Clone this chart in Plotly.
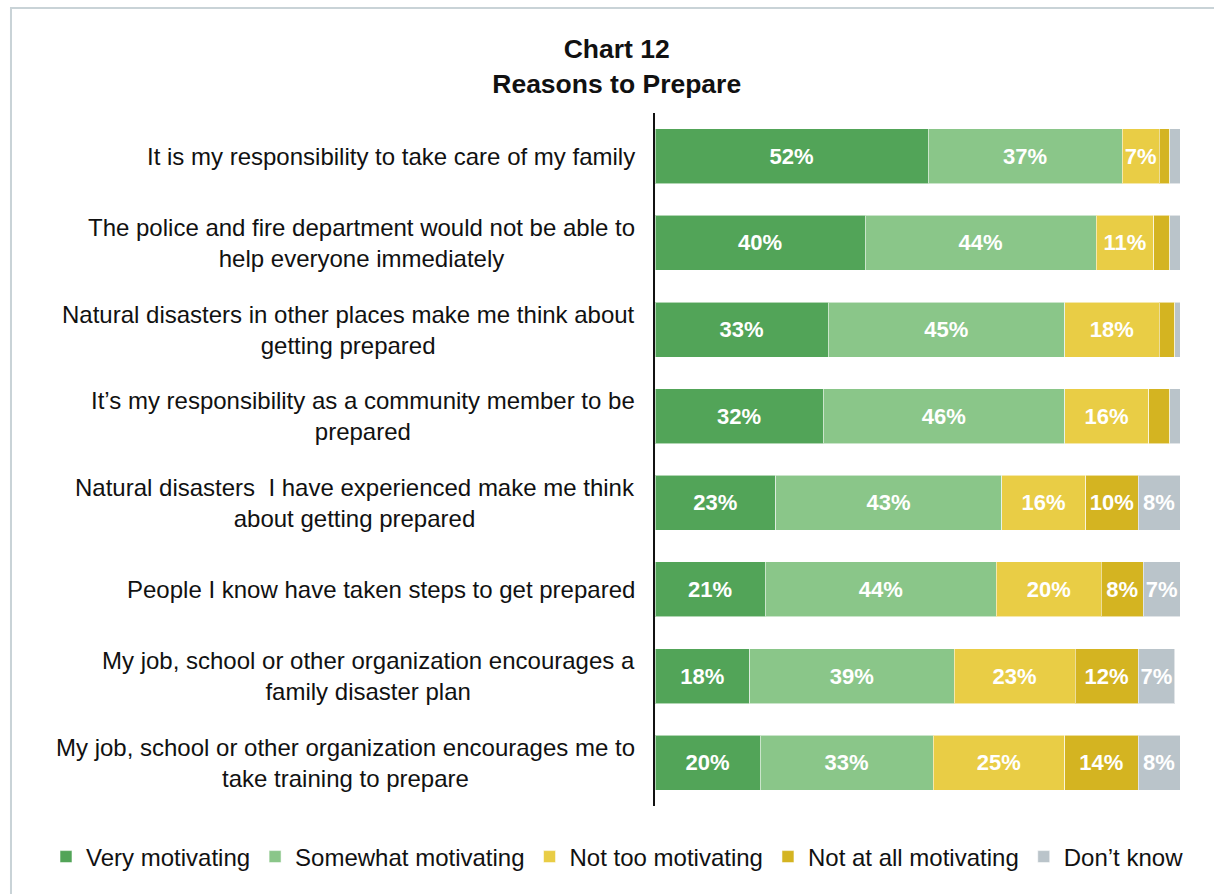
import plotly.graph_objects as go

# Survey statements, top to bottom
categories = [
    "It is my responsibility to take care of my family",
    "The police and fire department would not be able to<br>help everyone immediately",
    "Natural disasters in other places make me think about<br>getting prepared",
    "It’s my responsibility as a community member to be<br>prepared",
    "Natural disasters  I have experienced make me think<br>about getting prepared",
    "People I know have taken steps to get prepared",
    "My job, school or other organization encourages a<br>family disaster plan",
    "My job, school or other organization encourages me to<br>take training to prepare",
]

series_names = [
    "Very motivating",
    "Somewhat motivating",
    "Not too motivating",
    "Not at all motivating",
    "Don’t know",
]

very_motivating = [52, 40, 33, 32, 23, 21, 18, 20]
somewhat_motivating = [37, 44, 45, 46, 43, 44, 39, 33]
not_too_motivating = [7, 11, 18, 16, 16, 20, 23, 25]
not_at_all_motivating = [2, 3, 3, 4, 10, 8, 12, 14]
dont_know = [2, 2, 1, 2, 8, 7, 7, 8]

series_values = [
    very_motivating,
    somewhat_motivating,
    not_too_motivating,
    not_at_all_motivating,
    dont_know,
]

colors = ["#52a458", "#8ac689", "#e9cd45", "#d4b421", "#bac4ca"]

FONT = "Liberation Sans, Arial, sans-serif"

fig = go.Figure()

for name, vals, col in zip(series_names, series_values, colors):
    # Segments too narrow for a label are left blank
    labels = [f"{v}%" if v >= 5 else "" for v in vals]
    fig.add_trace(
        go.Bar(
            name=name,
            y=categories,
            x=vals,
            orientation="h",
            marker=dict(color=col, line=dict(color="rgba(255,255,255,0.55)", width=1)),
            text=labels,
            textposition="inside",
            insidetextanchor="middle",
            textangle=0,
            constraintext="none",
            textfont=dict(family=FONT, size=22, color="white", weight="bold"),
            hoverinfo="skip",
        )
    )

# Category labels: right-aligned block with centered lines
for cat in categories:
    fig.add_annotation(
        x=0,
        xref="paper",
        y=cat,
        yref="y",
        text=cat,
        showarrow=False,
        xanchor="right",
        yanchor="middle",
        align="center",
        xshift=-18,
        font=dict(family=FONT, size=24, color="#111111"),
    )

# Light frame along the top and left of the chart
fig.add_shape(
    type="rect",
    xref="paper",
    yref="paper",
    x0=-1.2267,
    x1=1.3,
    y0=-0.3,
    y1=1.1515,
    line=dict(color="#c9d3d7", width=2),
    fillcolor="rgba(0,0,0,0)",
    layer="below",
)

fig.update_layout(
    width=1214,
    height=894,
    barmode="stack",
    bargap=0.365,
    paper_bgcolor="white",
    plot_bgcolor="white",
    margin=dict(l=655, r=34, t=113, b=88),
    title=dict(
        text="Chart 12<br>Reasons to Prepare",
        x=0.508,
        xanchor="center",
        y=0.9346,
        yanchor="top",
        font=dict(family=FONT, size=26.5, color="#111111", weight="bold"),
    ),
    showlegend=True,
    legend=dict(
        orientation="h",
        x=-1.16,
        xanchor="left",
        y=-0.0736,
        yanchor="middle",
        font=dict(family=FONT, size=24, color="#111111"),
        traceorder="normal",
        itemwidth=30,
        tracegroupgap=0,
    ),
    xaxis=dict(
        range=[0, 100],
        showgrid=False,
        showticklabels=False,
        zeroline=False,
        showline=False,
        fixedrange=True,
    ),
    yaxis=dict(
        autorange="reversed",
        showticklabels=False,
        showgrid=False,
        showline=True,
        linecolor="#111111",
        linewidth=1.5,
        ticks="",
        fixedrange=True,
    ),
)

fig.write_html("out.html")
